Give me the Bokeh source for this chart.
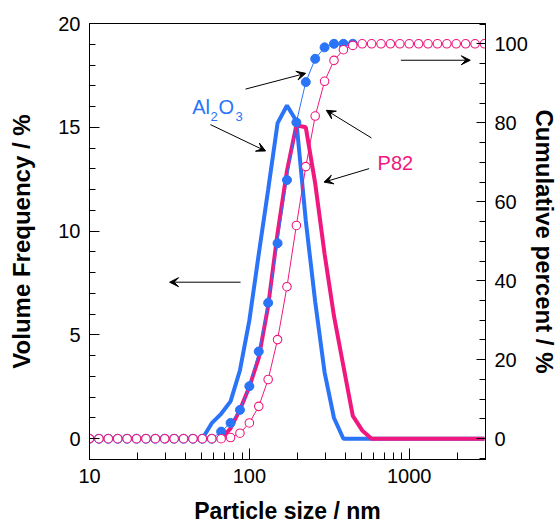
from bokeh.plotting import figure
from bokeh.models import (Range1d, LinearAxis, FixedTicker, Arrow, VeeHead,
                          Label, PrintfTickFormatter)
from bokeh.embed import file_html
from bokeh.resources import INLINE

nan = float("nan")

# ---------------- data ----------------
size_nm = [10.0, 11.45, 13.11, 15.01, 17.19, 19.68, 22.54, 25.81, 29.55, 33.84,
           38.75, 44.37, 50.80, 58.17, 66.61, 76.27, 87.33, 100.0, 114.5, 131.1,
           150.1, 171.9, 196.8, 225.4, 258.1, 295.5, 338.4, 387.5, 443.7, 508.0,
           581.7, 666.1, 762.7, 873.3, 1000.0, 1145.0, 1311.0, 1501.0, 1719.0,
           1968.0, 2254.0, 2581.0, 2955.0]

# volume frequency (%) - left axis
al2o3_freq = [nan, nan, nan, nan, nan, nan, nan, nan, nan, nan, nan, nan,
              0.0, 0.75, 1.2, 1.8, 3.3, 5.7, 8.9, 12.0, 15.2, 16.05, 15.3, 10.5,
              6.6, 3.2, 1.0, 0.0, 0.0, 0.0, 0.0, 0.0, 0.0, 0.0, 0.0, 0.0, 0.0,
              0.0, 0.0, 0.0, 0.0, 0.0, 0.0]
p82_freq = [nan, nan, nan, nan, nan, nan, nan, nan, nan, nan, nan, nan, nan, nan,
            0.0, 0.5, 1.4, 2.5, 3.9, 6.4, 9.9, 12.9, 15.1, 15.0, 12.3, 8.9, 5.9,
            3.5, 1.1, 0.4, 0.0, 0.0, 0.0, 0.0, 0.0, 0.0, 0.0, 0.0, 0.0, 0.0, 0.0,
            0.0, 0.0]

# cumulative percent (%) - right axis
al2o3_cum = [0.0, 0.0, 0.0, 0.0, 0.0, 0.0, 0.0, 0.0, 0.0, 0.0, 0.0, 0.0, 0.0, 0.0,
             1.8, 4.0, 7.3, 13.3, 22.1, 34.4, 49.5, 65.5, 80.1, 90.3, 96.2, 99.1,
             100.0, 100.0, 100.0, nan, nan, nan, nan, nan, nan, nan, nan, nan,
             nan, nan, nan, nan, nan]
p82_cum = [0.0, 0.0, 0.0, 0.0, 0.0, 0.0, 0.0, 0.0, 0.0, 0.0, 0.0, 0.0, 0.0, 0.0,
           0.0, 0.3, 1.4, 4.0, 8.2, 15.0, 25.1, 38.5, 54.0, 68.9, 81.7, 90.5, 95.8,
           98.5, 99.6, 100.0, 100.0, 100.0, 100.0, 100.0, 100.0, 100.0, 100.0,
           100.0, 100.0, 100.0, 100.0, 100.0, 100.0]

x_major_ticks = [10, 100, 1000]
x_minor_ticks = [20, 30, 40, 50, 60, 70, 80, 90, 200, 300, 400, 500, 600, 700,
                 800, 900, 2000, 3000]
y_left_major = [0, 5, 10, 15, 20]
y_left_minor = list(range(-1, 21))
y_right_major = [0, 20, 40, 60, 80, 100]
y_right_minor = list(range(-5, 106, 5))

# ---------------- style ----------------
BLUE = "#2A74F8"
PINK = "#F0187E"
FONT = "Liberation Sans"

p = figure(width=560, height=529, x_axis_type="log",
           x_range=Range1d(10, 3000), y_range=Range1d(-1, 20),
           output_backend="svg", toolbar_location=None,
           min_border_left=89, min_border_right=75,
           min_border_top=23, min_border_bottom=70,
           background_fill_color="white", border_fill_color="white")
p.extra_y_ranges = {"cum": Range1d(-5.26, 105.14)}
p.xgrid.visible = False
p.ygrid.visible = False
p.outline_line_color = "black"
p.outline_line_width = 1

# x axis
xa = p.xaxis[0]
xa.ticker = FixedTicker(ticks=x_major_ticks, minor_ticks=x_minor_ticks)
xa.formatter = PrintfTickFormatter(format="%d")
xa.axis_label = "Particle size / nm"

# left axis
ya = p.yaxis[0]
ya.ticker = FixedTicker(ticks=y_left_major, minor_ticks=y_left_minor)
ya.axis_label = "Volume Frequency / %"

# right axis
ra = LinearAxis(y_range_name="cum",
                ticker=FixedTicker(ticks=y_right_major, minor_ticks=y_right_minor),
                axis_label="Cumulative percent / %")
p.add_layout(ra, "right")

for ax in (xa, ya, ra):
    ax.axis_line_color = "black"
    ax.major_tick_line_color = "black"
    ax.minor_tick_line_color = "black"
    ax.major_tick_out = 0
    ax.minor_tick_out = 0
    ax.major_label_text_font = FONT
    ax.major_label_text_font_size = "20px"
    ax.major_label_text_color = "black"
    ax.axis_label_text_font = FONT
    ax.axis_label_text_font_size = "24px"
    ax.axis_label_text_font_style = "bold"
    ax.axis_label_text_color = "black"

xa.axis_label_text_font_size = "23px"
xa.major_tick_in = 11
xa.minor_tick_in = 7
xa.major_label_standoff = 9
xa.axis_label_standoff = 12
ya.major_tick_in = 10
ya.minor_tick_in = 6
ya.major_label_standoff = 9
ya.axis_label_standoff = 20
ra.major_tick_in = 9
ra.minor_tick_in = 6
ra.major_label_standoff = 9
ra.axis_label_standoff = 0

# ---------------- glyphs ----------------
p.line(size_nm, al2o3_freq, line_color=BLUE, line_width=4)
p.line(size_nm, p82_freq, line_color=PINK, line_width=4)

p.line(size_nm, al2o3_cum, line_color=BLUE, line_width=1, y_range_name="cum")
p.scatter(size_nm, al2o3_cum, marker="circle", size=9, fill_color=BLUE,
          line_color=BLUE, y_range_name="cum")
p.line(size_nm, p82_cum, line_color=PINK, line_width=1, y_range_name="cum")
p.scatter(size_nm, p82_cum, marker="circle", size=8.5, fill_color="white",
          line_color=PINK, line_width=1.1, y_range_name="cum")

# ---------------- annotations ----------------
arrows = [
    (94.6, 16.84, 225.0, 17.6),
    (57.1, 15.13, 126.3, 13.86),
    (580.0, 14.49, 303.0, 15.82),
    (561.0, 13.01, 293.0, 12.36),
    (887.0, 18.23, 2410.0, 18.23),
    (88.1, 7.54, 31.7, 7.54),
]
for xs, ys, xe, ye in arrows:
    p.add_layout(Arrow(x_start=xs, y_start=ys, x_end=xe, y_end=ye,
                       line_color="black", line_width=1,
                       end=VeeHead(size=9, fill_color="black",
                                   line_color="black", line_width=1)))

def lab(x, y, t, size, color):
    p.add_layout(Label(x=x, y=y, text=t, text_font=FONT,
                       text_font_size=size, text_color=color,
                       text_baseline="alphabetic"))

lab(43.85, 15.98, "Al", "20px", BLUE)
lab(57.1, 15.53, "2", "13px", BLUE)
lab(64.1, 15.98, "O", "20px", BLUE)
lab(81.9, 15.53, "3", "13px", BLUE)
lab(633.9, 13.28, "P82", "20px", PINK)

open("out.html", "w").write(file_html(p, INLINE))
